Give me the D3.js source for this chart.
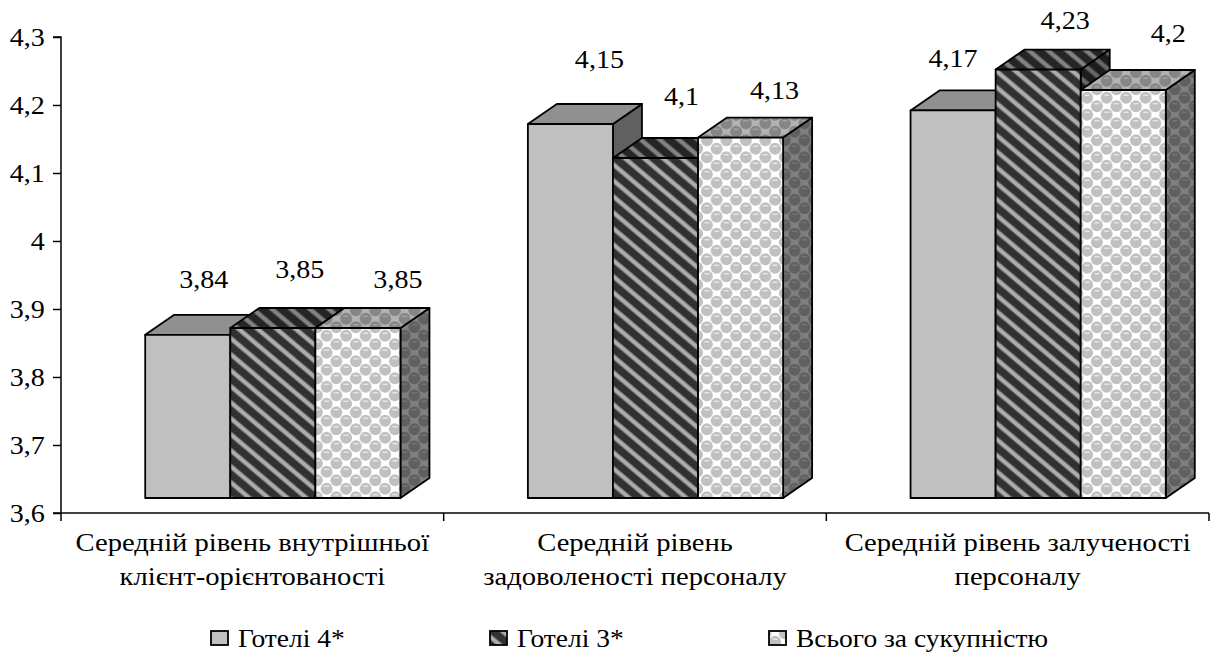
<!DOCTYPE html>
<html><head><meta charset="utf-8"><script src="https://cdn.jsdelivr.net/npm/d3@7"></script>
<style>html,body{margin:0;background:#fff}svg{display:block}text{font-family:"Liberation Serif",serif;fill:#000}</style></head>
<body><svg id="c" width="1212" height="652"></svg>
<script>
const categories=[["Середній рівень внутрішньої","клієнт-орієнтованості"],["Середній рівень","задоволеності персоналу"],["Середній рівень залученості","персоналу"]];
const seriesNames=["Готелі 4*","Готелі 3*","Всього за сукупністю"];
const hotels4=[3.84,4.15,4.17];
const hotels3=[3.85,4.10,4.23];
const total=[3.85,4.13,4.20];
const tickValues=[3.6,3.7,3.8,3.9,4.0,4.1,4.2,4.3];
const legendX=[211,490,769];

const svg=d3.select("#c"),defs=svg.append("defs");
const y=d3.scaleLinear().domain([3.6,4.3]).range([513,37]);
const x0=d3.scaleBand().domain([0,1,2]).range([61,1209]).paddingInner(0.333).paddingOuter(0.1665);
const x1=d3.scaleBand().domain([0,1,2]).range([0,x0.bandwidth()]);
const dx=29,dy=20,front=15,shift=20.5;
const fmt=v=>String(+v.toFixed(2)).replace(".",",");

function stripes(id,k){
  const W=19,H=16;
  const p=defs.append("pattern").attr("id",id).attr("patternUnits","userSpaceOnUse").attr("width",W).attr("height",H);
  const f=c=>d3.interpolateRgb(c,"#000")(k);
  p.append("rect").attr("width",W).attr("height",H).attr("fill",f("#313131"));
  for(const o of [-W,0,W]){
    const d=`M${o-W},${-H}L${o+2*W},${2*H}`;
    p.append("path").attr("d",d).attr("stroke",f("#6e6e6e")).attr("stroke-width",5.5);
    p.append("path").attr("d",d).attr("stroke",f("#adadad")).attr("stroke-width",3.4);
  }
}
function dots(id,k){
  const W=19.5,H=17;
  const p=defs.append("pattern").attr("id",id).attr("patternUnits","userSpaceOnUse").attr("width",W).attr("height",H);
  const f=c=>d3.interpolateRgb(c,"#000")(k);
  p.append("rect").attr("width",W).attr("height",H).attr("fill",f("#ffffff"));
  for(const [a,b] of [[W/4,H/4],[3*W/4,3*H/4],[-W/4,3*H/4],[5*W/4,H/4],[W/4,5*H/4],[3*W/4,-H/4]]){
    p.append("circle").attr("cx",a).attr("cy",b).attr("r",5.9).attr("fill",f("#c0c0c0"));
    p.append("path").attr("d",`M${a-2.5},${b-2.5}h5`).attr("stroke",f("#ececec")).attr("stroke-width",1.3);
  }
}
stripes("s0",0);stripes("s1",0.25);stripes("s2",0.4);
dots("d0",0);dots("d1",0.3);dots("d2",0.5);

const fills=[["#c0c0c0","#909090","#606060"],["url(#s0)","url(#s1)","url(#s2)"],["url(#d0)","url(#d1)","url(#d2)"]];
const series=[hotels4,hotels3,total];
const labelDx=[[16,29,0],[27,26,27],[40,34,45]];
const labelDy=[[-47,-56,-43],[-50,-53,-41],[-40,-39,-48]];
const g=svg.append("g").attr("stroke","#000").attr("stroke-width",1.8).attr("stroke-linejoin","round");
const FS=26,SX=1.08;

categories.forEach((_,ci)=>{
  series.forEach((vals,si)=>{
    const l=x0(ci)+shift+x1(si),r=l+x1.bandwidth(),t=y(vals[ci])-front,b=y(3.6)-front;
    g.append("path").attr("fill",fills[si][2]).attr("d",`M${r},${t}l${dx},${-dy}V${b-dy}L${r},${b}Z`);
    g.append("path").attr("fill",fills[si][1]).attr("d",`M${l},${t}l${dx},${-dy}H${r+dx}L${r},${t}Z`);
    g.append("rect").attr("x",l).attr("y",t).attr("width",r-l).attr("height",b-t).attr("fill",fills[si][0]);
    svg.append("text").attr("transform",`translate(${(l+r)/2+labelDx[si][ci]},${t+labelDy[si][ci]}) scale(${SX},1)`).attr("text-anchor","middle").attr("font-size",FS).text(fmt(vals[ci]));
  });
});

const ay=svg.append("g").attr("transform","translate(61,0)").call(d3.axisLeft(y).tickValues(tickValues).tickSize(8).tickPadding(7).tickFormat(fmt));
const ax=svg.append("g").attr("transform","translate(0,513)");
ax.append("line").attr("x1",61).attr("x2",1209).attr("y1",0).attr("y2",0);
d3.range(0,4).forEach(i=>ax.append("line").attr("x1",61+i*(1148/3)).attr("x2",61+i*(1148/3)).attr("y1",0).attr("y2",8));
ax.selectAll("line").attr("stroke","#000").attr("stroke-width",1.5);
ay.selectAll("path,line").attr("stroke","#000").attr("stroke-width",1.5);
ay.select("path").attr("d","M-8,37H0V513H-8");
ay.selectAll("text").attr("font-size",FS).attr("font-family","Liberation Serif").attr("transform",`scale(${SX},1)`);

categories.forEach((ls,i)=>ls.forEach((s,j)=>{
  svg.append("text").attr("transform",`translate(${x0(i)+x0.bandwidth()/2},${551+j*34}) scale(1.1,1)`).attr("text-anchor","middle").attr("font-size",FS).text(s);
}));
seriesNames.forEach((n,i)=>{
  svg.append("rect").attr("x",legendX[i]).attr("y",631).attr("width",17).attr("height",14).attr("fill",["#c0c0c0","url(#s0)","url(#d0)"][i]).attr("stroke","#000").attr("stroke-width",1.8);
  svg.append("text").attr("transform",`translate(${legendX[i]+27},647) scale(1.1,1)`).attr("font-size",25).text(n);
});
</script></body></html>
